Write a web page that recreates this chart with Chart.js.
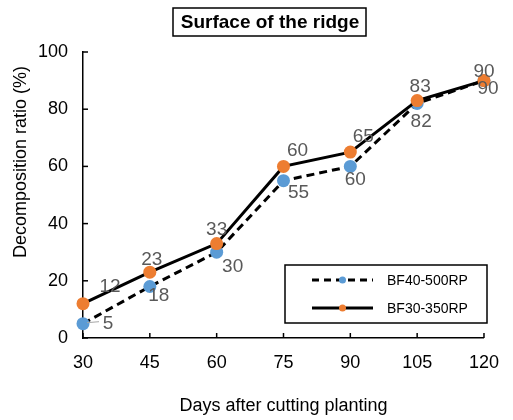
<!DOCTYPE html>
<html>
<head>
<meta charset="utf-8">
<script src="https://cdn.jsdelivr.net/npm/chart.js@4/dist/chart.umd.min.js"></script>
<style>
  html, body { margin: 0; padding: 0; background: #fff; }
  #wrap { width: 513px; height: 420px; }
</style>
</head>
<body>
<div id="wrap"><canvas id="chart" width="513" height="420"></canvas></div>
<script>
// Days after cutting planting
const days = [30, 45, 60, 75, 90, 105, 120];
// Decomposition ratio (%)
const bf40 = [5, 18, 30, 55, 60, 82, 90];
const bf30 = [12, 23, 33, 60, 65, 83, 90];
const yTicks = [0, 20, 40, 60, 80, 100];
const seriesNames = ['BF40-500RP', 'BF30-350RP'];

const FONT = '"Liberation Sans", Arial, sans-serif';
const blue = '#5B9BD5';
const orange = '#ED7D31';

// where each value label sits relative to its point (px)
const labelOffsets = [
    [[25, 0], [9, 9], [16, 15], [15, 12], [5, 13], [4, 18], [4, 8]],
    [[27, -17], [2, -12], [0, -14], [14, -16], [13, -15], [3, -14], [0, -9]]
];

const extras = {
    id: 'extras',
    afterDraw(chart) {
        const ctx = chart.ctx;
        const xs = chart.scales.x, ys = chart.scales.y;
        const area = chart.chartArea;
        ctx.save();

        // inward tick marks
        ctx.strokeStyle = '#000';
        ctx.lineWidth = 1.5;
        days.forEach(d => {
            const px = xs.getPixelForValue(d);
            ctx.beginPath();
            ctx.moveTo(px, area.bottom);
            ctx.lineTo(px, area.bottom - 5);
            ctx.stroke();
        });
        yTicks.forEach(v => {
            const py = ys.getPixelForValue(v);
            ctx.beginPath();
            ctx.moveTo(area.left, py);
            ctx.lineTo(area.left + 5, py);
            ctx.stroke();
        });

        // title in a box
        ctx.font = 'bold 19px ' + FONT;
        ctx.fillStyle = '#000';
        ctx.textAlign = 'center';
        ctx.textBaseline = 'middle';
        ctx.fillText('Surface of the ridge', 270, 23);
        ctx.lineWidth = 1.5;
        ctx.strokeRect(173, 8, 193, 28);

        // y axis title
        ctx.save();
        ctx.translate(21, 162);
        ctx.rotate(-Math.PI / 2);
        ctx.font = '18px ' + FONT;
        ctx.fillText('Decomposition ratio (%)', 0, 0);
        ctx.restore();

        // legend
        ctx.lineWidth = 1.5;
        ctx.strokeStyle = '#000';
        ctx.strokeRect(285, 265, 202, 58);
        const rows = [
            { y: 280, dash: [7, 5], color: blue },
            { y: 308, dash: [], color: orange }
        ];
        rows.forEach((r, i) => {
            ctx.beginPath();
            ctx.setLineDash(r.dash);
            ctx.lineWidth = 3;
            ctx.moveTo(312, r.y);
            ctx.lineTo(373, r.y);
            ctx.stroke();
            ctx.setLineDash([]);
            ctx.beginPath();
            ctx.fillStyle = r.color;
            ctx.arc(342.5, r.y, 3.5, 0, Math.PI * 2);
            ctx.fill();
            ctx.fillStyle = '#000';
            ctx.font = '14px ' + FONT;
            ctx.textAlign = 'left';
            ctx.fillText(seriesNames[i], 387, r.y + 1);
        });

        // value labels
        ctx.font = '19px ' + FONT;
        ctx.fillStyle = '#595959';
        ctx.textAlign = 'center';
        ctx.textBaseline = 'middle';
        chart.data.datasets.forEach((ds, di) => {
            const meta = chart.getDatasetMeta(di);
            meta.data.forEach((pt, i) => {
                const off = labelOffsets[ds.seriesIndex][i];
                ctx.fillText(String(ds.data[i].y), pt.x + off[0], pt.y + off[1]);
            });
        });
        // leader line for the first blue label
        const p0 = chart.getDatasetMeta(1).data[0];
        ctx.strokeStyle = '#A6A6A6';
        ctx.lineWidth = 1;
        ctx.beginPath();
        ctx.moveTo(p0.x + 4, p0.y - 1);
        ctx.lineTo(p0.x + 16, p0.y - 2);
        ctx.stroke();

        ctx.restore();
    }
};

const toPoints = vals => vals.map((v, i) => ({ x: days[i], y: v }));

new Chart(document.getElementById('chart'), {
    type: 'line',
    data: {
        datasets: [
            {
                label: seriesNames[1],
                seriesIndex: 1,
                data: toPoints(bf30),
                borderColor: '#000',
                borderWidth: 3,
                pointBackgroundColor: orange,
                pointBorderWidth: 0,
                pointRadius: 6.5,
                clip: false,
                tension: 0
            },
            {
                label: seriesNames[0],
                seriesIndex: 0,
                data: toPoints(bf40),
                borderColor: '#000',
                borderWidth: 3,
                borderDash: [8, 5],
                pointBackgroundColor: blue,
                pointBorderWidth: 0,
                pointRadius: 6.5,
                clip: false,
                tension: 0
            }
        ]
    },
    options: {
        responsive: false,
        animation: false,
        layout: { padding: { top: 52, right: 23, left: 0, bottom: 0 } },
        plugins: { legend: { display: false }, tooltip: { enabled: false }, title: { display: false } },
        scales: {
            x: {
                type: 'linear',
                min: 30,
                max: 120,
                afterBuildTicks: s => { s.ticks = days.map(v => ({ value: v })); },
                afterFit: s => { s.height = 82; },
                grid: { display: false, drawTicks: false },
                border: { display: true, color: '#000', width: 1.5 },
                ticks: { color: '#000', padding: 14, font: { family: FONT, size: 18 }, maxRotation: 0 },
                title: { display: true, text: 'Days after cutting planting', color: '#000',
                         font: { family: FONT, size: 18 }, padding: { top: 0, bottom: 3 } }
            },
            y: {
                min: 0,
                max: 100,
                afterBuildTicks: s => { s.ticks = yTicks.map(v => ({ value: v })); },
                afterFit: s => { s.width = 83; },
                grid: { display: false, drawTicks: false },
                border: { display: true, color: '#000', width: 1.5 },
                ticks: { color: '#000', padding: 15, font: { family: FONT, size: 18 } }
            }
        }
    },
    plugins: [extras]
});
</script>
</body>
</html>
